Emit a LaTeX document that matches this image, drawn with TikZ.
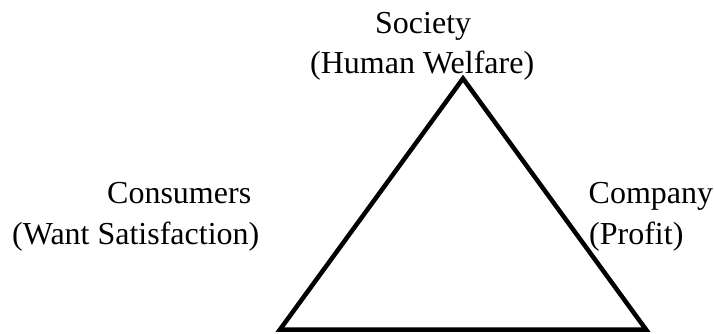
\documentclass[tikz,border=0pt]{standalone}
\usepackage{fontspec}
\setmainfont{Liberation Serif}
\begin{document}
\begin{tikzpicture}[x=1pt,y=-1pt,
  lbl/.style={inner sep=0pt,anchor=base west,font=\fontsize{32}{38}\selectfont},
  tri/.style={line width=4.5pt,line join=miter,draw=black}]
\useasboundingbox (0,0) rectangle (714,333);
\coordinate (apex) at (463,78.5);
\coordinate (bl) at (280,329.5);
\coordinate (br) at (646,329.5);
\draw[tri] (apex) -- (bl) -- (br) -- cycle;
\node[lbl] (soc) at (375,33) {Society};
\node[lbl] (hw) at (310,73) {(Human Welfare)};
\node[lbl] (con) at (107,203) {Consumers};
\node[lbl] (ws) at (12,244) {(Want Satisfaction)};
\node[lbl] (com) at (588.5,203) {Company};
\node[lbl] (pro) at (589,244) {(Profit)};
\end{tikzpicture}
\end{document}
